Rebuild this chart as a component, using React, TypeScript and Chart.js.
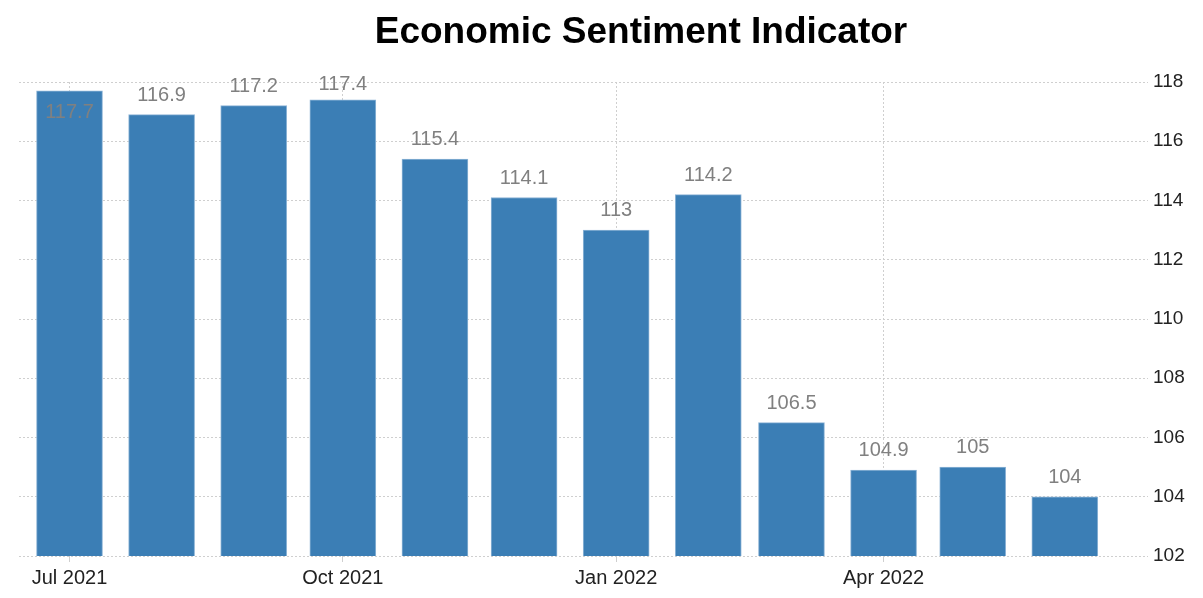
import React, { useEffect, useRef } from "react";
import { Chart, registerables } from "chart.js";

Chart.register(...registerables);

const titleText = "Economic Sentiment Indicator";
const months = [
  "2021-07", "2021-08", "2021-09", "2021-10", "2021-11", "2021-12",
  "2022-01", "2022-02", "2022-03", "2022-04", "2022-05", "2022-06",
];
const values = [117.7, 116.9, 117.2, 117.4, 115.4, 114.1, 113, 114.2, 106.5, 104.9, 105, 104];
const tickMonths = ["2021-07", "2021-10", "2022-01", "2022-04"];
const tickLabels = ["Jul 2021", "Oct 2021", "Jan 2022", "Apr 2022"];
const yMin = 102;
const yMax = 118;
const yStep = 2;

const FONT = "'Liberation Sans', Arial, sans-serif";

function dayOf(m: string): number {
  const [y, mo] = m.split("-").map(Number);
  return (Date.UTC(y, mo - 1, 1) - Date.UTC(2021, 6, 1)) / 86400000;
}

const tickDays = tickMonths.map(dayOf);

const titlePlugin = {
  id: "customTitle",
  afterDraw(chart: any) {
    const ctx = chart.ctx;
    ctx.save();
    ctx.font = `bold 37px ${FONT}`;
    ctx.fillStyle = "#000";
    ctx.textAlign = "center";
    ctx.textBaseline = "alphabetic";
    ctx.fillText(titleText, 641, 43);
    ctx.restore();
  },
};

const valueLabelPlugin = {
  id: "valueLabels",
  afterDatasetsDraw(chart: any) {
    const ctx = chart.ctx;
    const meta = chart.getDatasetMeta(0);
    const area = chart.chartArea;
    const textH = 15;
    const gap = 14;
    const minTop = area.top - 7;
    ctx.save();
    ctx.font = `20px ${FONT}`;
    ctx.fillStyle = "#808080";
    ctx.textAlign = "center";
    ctx.textBaseline = "alphabetic";
    meta.data.forEach((bar: any, i: number) => {
      const text = String(values[i]);
      let base = bar.y - gap;
      if (base - textH < minTop) {
        const clamped = minTop + textH;
        if (clamped <= bar.y - 5) {
          base = clamped;
        } else {
          base = bar.y + 12 + textH;
        }
      }
      ctx.fillText(text, bar.x, base);
    });
    ctx.restore();
  },
};

export default function App() {
  const ref = useRef<HTMLCanvasElement | null>(null);

  useEffect(() => {
    if (!ref.current) return;
    const chart = new Chart(ref.current, {
      type: "bar",
      data: {
        datasets: [
          {
            data: months.map((m, i) => ({ x: dayOf(m), y: values[i] })),
            backgroundColor: "#3b7eb5",
            borderColor: "#8db4d6",
            borderWidth: 1,
            barThickness: 66,
          },
        ],
      },
      options: {
        animation: false,
        responsive: true,
        maintainAspectRatio: false,
        layout: { padding: { top: 82, left: 19, right: 0, bottom: 0 } },
        plugins: {
          legend: { display: false },
          title: { display: false },
          tooltip: { enabled: false },
        },
        scales: {
          x: {
            type: "linear",
            offset: false,
            min: -17,
            max: 363,
            afterBuildTicks: (scale: any) => {
              scale.ticks = tickDays.map((v) => ({ value: v }));
            },
            afterFit: (scale: any) => {
              scale.height = 42;
            },
            grid: {
              offset: false,
              color: "#cfcfcf",
              lineWidth: 1,
              drawTicks: true,
              tickLength: 6,
              tickColor: "#cfcfcf",
              tickBorderDash: [],
            },
            border: { display: false, dash: [2, 2] },
            ticks: {
              autoSkip: false,
              maxRotation: 0,
              padding: 4,
              color: "#222",
              font: { family: FONT, size: 20 },
              callback: (value: any) => {
                const idx = tickDays.indexOf(Number(value));
                return idx >= 0 ? tickLabels[idx] : "";
              },
            },
          },
          y: {
            position: "right",
            min: yMin,
            max: yMax,
            afterFit: (scale: any) => {
              scale.width = 55;
            },
            grid: { color: "#cfcfcf", lineWidth: 1, drawTicks: false },
            border: { display: false, dash: [2, 2] },
            ticks: {
              stepSize: yStep,
              padding: 5,
              color: "#222",
              font: { family: FONT, size: 19 },
            },
          },
        },
      },
      plugins: [titlePlugin, valueLabelPlugin],
    } as any);
    return () => chart.destroy();
  }, []);

  return (
    <div style={{ position: "fixed", left: 0, top: 0, width: 1203, height: 598, background: "#fff" }}>
      <canvas ref={ref} />
    </div>
  );
}
